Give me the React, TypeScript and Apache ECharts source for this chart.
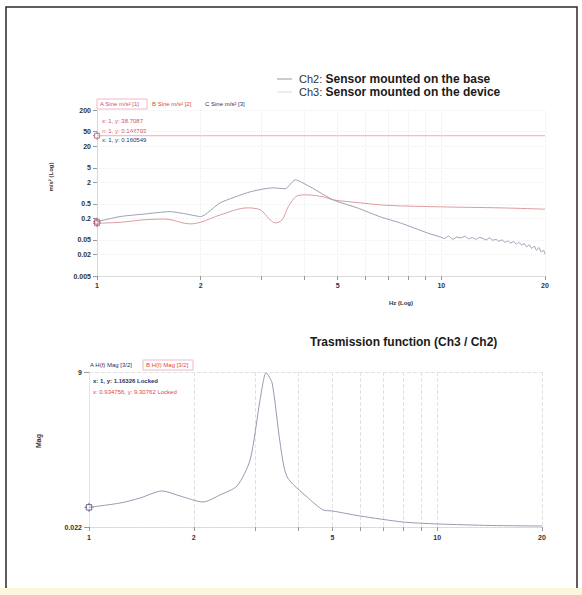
import React, { useEffect, useRef } from "react";
import * as echarts from "echarts";

// ---------- axis ticks / labels ----------
const freqLabels = [1, 2, 5, 10, 20];
const freqTicks = [1, 2, 3, 4, 5, 6, 7, 8, 9, 10, 20];
const accelLabels = [0.005, 0.02, 0.05, 0.2, 0.5, 2, 5, 20, 50, 200];
const magLabels = [0.022, 9];

// ---------- top chart: sine sweep spectra (m/s²) ----------
const sineAFreq = [1, 2, 5, 10, 20];
const sineA = [38.71, 38.7, 38.69, 38.7, 38.7];

const sineBFreq = [1, 1.166, 1.361, 1.576, 1.862, 2.0, 2.279, 2.729, 2.978, 3.184, 3.291, 3.449, 3.591, 3.814, 4.078, 4.539, 4.85, 5.814, 6.65, 7.6, 9.93, 14.84, 20];
const sineB = [0.1447, 0.154, 0.18, 0.19, 0.139, 0.155, 0.247, 0.387, 0.341, 0.18, 0.148, 0.18, 0.413, 0.834, 0.889, 0.782, 0.646, 0.533, 0.469, 0.44, 0.413, 0.387, 0.356];

const sineCFreq = [1, 1.166, 1.361, 1.63, 1.826, 2.0, 2.279, 2.785, 3.248, 3.52, 3.764, 4.16, 4.85, 5.7, 6.65, 7.6, 9.11, 9.93,
  10.2, 10.5, 10.8, 11.1, 11.4, 11.7, 12.0, 12.3, 12.6, 12.9, 13.2, 13.5, 13.8, 14.1, 14.4, 14.7, 15.0, 15.3, 15.6, 15.9,
  16.2, 16.5, 16.8, 17.1, 17.4, 17.7, 18.0, 18.3, 18.6, 18.9, 19.2, 19.5, 19.8, 20];
const sineC = [0.1605, 0.222, 0.259, 0.305, 0.259, 0.222, 0.533, 1.077, 1.39, 1.31, 2.32, 1.48, 0.646, 0.387, 0.218, 0.148, 0.0782, 0.0606,
  0.055, 0.064, 0.052, 0.06, 0.057, 0.063, 0.054, 0.058, 0.052, 0.059, 0.055, 0.05, 0.057, 0.049, 0.052, 0.046, 0.05, 0.043, 0.047, 0.041,
  0.045, 0.038, 0.043, 0.036, 0.04, 0.032, 0.037, 0.029, 0.034, 0.026, 0.031, 0.023, 0.026, 0.02];

// ---------- bottom chart: transmission function H(f) = Ch3 / Ch2 ----------
const hFreq = [1, 1.228, 1.401, 1.621, 1.826, 2.126, 2.379, 2.662, 2.901, 3.1, 3.226, 3.357, 3.539, 3.707, 4.231, 4.703, 5, 6.005, 7.988, 10, 14.2, 20];
const hMag = [1.163, 1.41, 1.7, 2.11, 1.82, 1.47, 1.88, 2.4, 3.9, 7.38, 8.95, 8.36, 4.89, 2.92, 1.76, 1.01, 0.95, 0.66, 0.31, 0.2, 0.11, 0.08];

// cursor readouts
const topCursorText = ["x: 1, y: 38.7087", "x: 1, y: 0.144703", "x: 1, y: 0.160549"];
const bottomCursorText = ["x: 1, y: 1.16326 Locked", "x: 0.934756, y: 9.30762 Locked"];

const FONT = "'Liberation Sans', Arial, Helvetica, sans-serif";
const pair = (xs: number[], ys: number[]) => xs.map((x, i) => [x, ys[i]]);
const fmt = (v: any) => String(parseFloat(Number(v).toPrecision(4)));

const C_A = "#eab0bc";
const C_B = "#de9aa0";
const C_C = "#9aa0b6";
const T_A = "#d0506e";
const T_B = "#d84a3c";
const T_C = "#2c3366";

const cursorSymbol = "path://M2 2H8V8H2Z M5 0V2 M5 8V10 M0 5H2 M8 5H10";

export default function App() {
  const ref = useRef<HTMLDivElement>(null);
  useEffect(() => {
    if (!ref.current) return;
    const chart = echarts.init(ref.current, undefined, { renderer: "svg" });
    const tickLabel = { fontSize: 7, fontWeight: "bold", color: "#333", fontFamily: FONT };
    const smallText = (text: string, x: number, y: number, fill: string, extra: any = {}) => ({
      type: "text",
      x,
      y,
      silent: true,
      style: { text, fill, fontSize: 6, fontFamily: FONT, align: "left", verticalAlign: "middle", ...extra },
    });
    const option: any = {
      animation: false,
      backgroundColor: "#ffffff",
      textStyle: { fontFamily: FONT },
      title: {
        text: "Trasmission function (Ch3 / Ch2)",
        left: 310,
        top: 336,
        padding: 0,
        textStyle: { fontSize: 12, fontWeight: "bold", color: "#1a1a1a", fontFamily: FONT },
      },
      grid: [
        { left: 97, width: 448, top: 110, height: 166 },
        { left: 89, width: 453, top: 372, height: 155 },
      ],
      xAxis: [
        {
          type: "log",
          gridIndex: 0,
          min: 1,
          max: 20,
          axisLine: { show: true, lineStyle: { color: "#d4d4d4", type: "dotted" } },
          axisTick: { show: true, customValues: freqTicks, length: 4, lineStyle: { color: "#999" } },
          axisLabel: { customValues: freqLabels, formatter: fmt, margin: 6, ...tickLabel },
          splitLine: { show: true, lineStyle: { color: "#ebebeb", type: "dotted" } },
        },
        {
          type: "log",
          gridIndex: 1,
          min: 1,
          max: 20,
          axisLine: { show: true, lineStyle: { color: "#d8d8d8", type: "dotted" } },
          axisTick: { show: true, customValues: freqTicks, length: 4, lineStyle: { color: "#999" } },
          axisLabel: { customValues: freqLabels, formatter: fmt, margin: 7, ...tickLabel },
          splitLine: { show: true, lineStyle: { color: "#e2e2e2", type: "dashed" } },
        },
      ],
      yAxis: [
        {
          type: "log",
          gridIndex: 0,
          min: 0.005,
          max: 200,
          axisLine: { show: true, lineStyle: { color: "#d4d4d4", type: "dotted" } },
          axisTick: { show: true, customValues: accelLabels, length: 4, lineStyle: { color: "#999" } },
          axisLabel: { customValues: accelLabels, formatter: fmt, margin: 6, ...tickLabel },
          splitLine: { show: true, lineStyle: { color: "#efefef", type: "dotted" } },
        },
        {
          type: "value",
          gridIndex: 1,
          min: 0.022,
          max: 9,
          axisLine: { show: true, lineStyle: { color: "#e4e4e4" } },
          axisTick: { show: true, customValues: magLabels, length: 5, lineStyle: { color: "#999" } },
          axisLabel: { customValues: magLabels, formatter: fmt, margin: 7, ...tickLabel },
          splitLine: { show: true, lineStyle: { color: "#e2e2e2", type: "dashed" } },
        },
      ],
      series: [
        {
          name: "A Sine m/s² [1]",
          type: "line",
          xAxisIndex: 0,
          yAxisIndex: 0,
          data: pair(sineAFreq, sineA),
          showSymbol: false,
          silent: true,
          lineStyle: { color: C_A, width: 1 },
        },
        {
          name: "B Sine m/s² [2]",
          type: "line",
          xAxisIndex: 0,
          yAxisIndex: 0,
          data: pair(sineBFreq, sineB),
          smooth: 0.3,
          showSymbol: false,
          silent: true,
          lineStyle: { color: C_B, width: 1 },
        },
        {
          name: "C Sine m/s² [3]",
          type: "line",
          xAxisIndex: 0,
          yAxisIndex: 0,
          data: pair(sineCFreq, sineC),
          smooth: 0.2,
          showSymbol: false,
          silent: true,
          lineStyle: { color: C_C, width: 1 },
        },
        {
          name: "cursor top",
          type: "scatter",
          xAxisIndex: 0,
          yAxisIndex: 0,
          data: [[sineAFreq[0], sineA[0]], [sineBFreq[0], sineB[0]], [sineCFreq[0], sineC[0]]],
          symbol: cursorSymbol,
          symbolSize: 8,
          silent: true,
          itemStyle: { color: "transparent", borderColor: "#b0507a", borderWidth: 1 },
        },
        {
          name: "A H(f) Mag [3/2]",
          type: "line",
          xAxisIndex: 1,
          yAxisIndex: 1,
          data: pair(hFreq, hMag),
          smooth: 0.25,
          showSymbol: false,
          silent: true,
          lineStyle: { color: "#959bb0", width: 1 },
        },
        {
          name: "cursor bottom",
          type: "scatter",
          xAxisIndex: 1,
          yAxisIndex: 1,
          data: [[hFreq[0], hMag[0]]],
          symbol: cursorSymbol,
          symbolSize: 9,
          silent: true,
          itemStyle: { color: "transparent", borderColor: "#444a70", borderWidth: 1 },
        },
      ],
      graphic: [
        // page frame
        { type: "rect", silent: true, shape: { x: 6, y: 7, width: 571, height: 600 }, style: { fill: "none", stroke: "#2a2a2a", lineWidth: 1.5 } },
        { type: "rect", silent: true, shape: { x: 0, y: 588, width: 582, height: 7 }, style: { fill: "#fbf6dc" } },
        // channel legend
        { type: "line", silent: true, shape: { x1: 277, y1: 79, x2: 292, y2: 79 }, style: { stroke: "#999", lineWidth: 1 } },
        { type: "line", silent: true, shape: { x1: 277, y1: 92, x2: 292, y2: 92 }, style: { stroke: "#dcdcdc", lineWidth: 1 } },
        {
          type: "text",
          x: 299,
          y: 79,
          silent: true,
          style: {
            text: "{a|Ch2:} {b|Sensor mounted on the base}",
            verticalAlign: "middle",
            align: "left",
            rich: {
              a: { fontSize: 11, fontFamily: FONT, fill: "#333", fontWeight: "normal" },
              b: { fontSize: 12, fontFamily: FONT, fill: "#1a1a1a", fontWeight: "bold" },
            },
          },
        },
        {
          type: "text",
          x: 299,
          y: 92,
          silent: true,
          style: {
            text: "{a|Ch3:} {b|Sensor mounted on the device}",
            verticalAlign: "middle",
            align: "left",
            rich: {
              a: { fontSize: 11, fontFamily: FONT, fill: "#333", fontWeight: "normal" },
              b: { fontSize: 12, fontFamily: FONT, fill: "#1a1a1a", fontWeight: "bold" },
            },
          },
        },
        // trace selector boxes (top)
        { type: "rect", silent: true, shape: { x: 97, y: 99, width: 50, height: 10 }, style: { fill: "none", stroke: "#f0b8c6", lineWidth: 1 } },
        smallText("A Sine m/s² [1]", 100, 104, T_A),
        smallText("B Sine m/s² [2]", 152, 104, T_B),
        smallText("C Sine m/s² [3]", 205, 104, T_C),
        smallText(topCursorText[0], 102, 121, T_A),
        smallText(topCursorText[1], 102, 131, T_B),
        smallText(topCursorText[2], 102, 140, T_C),
        // axis titles (top)
        { type: "text", x: 51, y: 177, rotation: Math.PI / 2, silent: true, style: { text: "m/s² (Log)", fill: "#333", fontSize: 6, fontWeight: "bold", fontFamily: FONT, align: "center", verticalAlign: "middle" } },
        { type: "text", x: 401, y: 303, silent: true, style: { text: "Hz (Log)", fill: "#333", fontSize: 6, fontWeight: "bold", fontFamily: FONT, align: "center", verticalAlign: "middle" } },
        // trace selector boxes (bottom)
        { type: "rect", silent: true, shape: { x: 143, y: 360, width: 50, height: 10 }, style: { fill: "none", stroke: "#f0b8c6", lineWidth: 1 } },
        smallText("A H(f) Mag [3/2]", 90, 365, T_C),
        smallText("B H(f) Mag [3/2]", 146, 365, T_B),
        smallText(bottomCursorText[0], 93, 381, T_C, { fontWeight: "bold" }),
        smallText(bottomCursorText[1], 93, 392, T_B),
        { type: "text", x: 38, y: 441, rotation: Math.PI / 2, silent: true, style: { text: "Mag", fill: "#333", fontSize: 7, fontWeight: "bold", fontFamily: FONT, align: "center", verticalAlign: "middle" } },
      ],
    };
    chart.setOption(option);
    return () => chart.dispose();
  }, []);
  return <div ref={ref} style={{ position: "fixed", left: 0, top: 0, width: 582, height: 595 }} />;
}
